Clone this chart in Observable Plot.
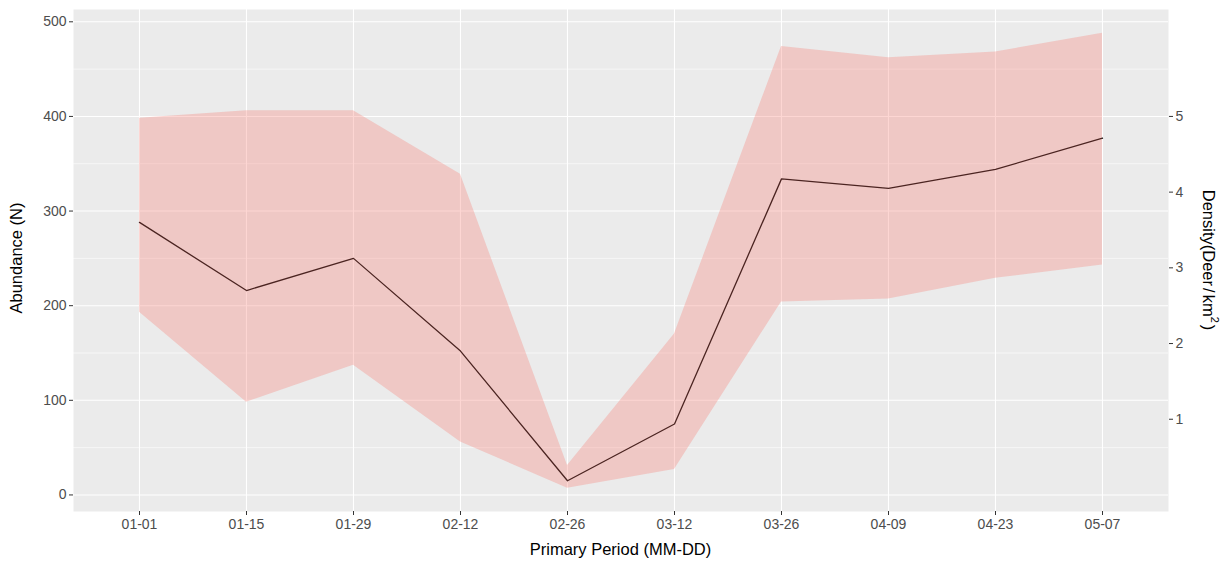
<!DOCTYPE html>
<html>
<head>
<meta charset="utf-8">
<script src="https://cdn.jsdelivr.net/npm/d3@7"></script>
<script src="https://cdn.jsdelivr.net/npm/@observablehq/plot@0.6"></script>
<style>
  body { margin: 0; background: #fff; font-family: "Liberation Sans", Arial, sans-serif; }
</style>
</head>
<body>
<div id="chart"></div>
<script>
// Primary sampling periods (MM-DD)
const periods = ["01-01", "01-15", "01-29", "02-12", "02-26", "03-12", "03-26", "04-09", "04-23", "05-07"];
// Estimated abundance (N) with lower / upper confidence bounds
const abundance = [288, 216, 250, 152, 15, 75, 334, 324, 344, 377];
const lower = [193, 98, 137, 56, 7, 27, 204, 207, 229, 243];
const upper = [398, 406, 406, 339, 31, 170, 474, 462, 468, 488];

// Axis tick values
const abundanceTicks = [0, 100, 200, 300, 400, 500];
const abundanceMinor = [50, 150, 250, 350, 450];
const densityTicks = [1, 2, 3, 4, 5];
const studyAreaKm2 = 80; // density = N / area

const rows = periods.map((p, i) => ({ period: p, n: abundance[i], lo: lower[i], hi: upper[i] }));

const textColor = "#4D4D4D";
const tickColor = "#333333";

const chart = Plot.plot({
  width: 1231,
  height: 563,
  marginLeft: 73,
  marginRight: 63,
  marginTop: 9,
  marginBottom: 52,
  style: { fontFamily: "Liberation Sans, Arial, sans-serif", fontSize: "14px", background: "#ffffff" },
  x: { type: "point", domain: periods, padding: 0.6 },
  y: { domain: [-17.5, 513] },
  marks: [
    Plot.frame({ fill: "#EBEBEB", stroke: null }),
    Plot.ruleY(abundanceMinor, { stroke: "#ffffff", strokeWidth: 0.6 }),
    Plot.ruleY(abundanceTicks, { stroke: "#ffffff", strokeWidth: 1.1 }),
    Plot.ruleX(periods, { stroke: "#ffffff", strokeWidth: 1.1 }),
    Plot.line(rows, { x: "period", y: "n", stroke: "#000000", strokeWidth: 1.3 }),
    Plot.areaY(rows, { x: "period", y1: "lo", y2: "hi", fill: "#F8766D", fillOpacity: 0.3 }),
    Plot.axisX({ tickSize: 4, tickPadding: 4, stroke: tickColor, fill: textColor, label: null }),
    Plot.axisY({ ticks: abundanceTicks, tickSize: 4, tickPadding: 3, stroke: tickColor, fill: textColor, label: null }),
    Plot.axisY({
      anchor: "right",
      ticks: densityTicks.map(d => d * studyAreaKm2),
      tickFormat: d => d / studyAreaKm2,
      tickSize: 4,
      tickPadding: 3,
      stroke: tickColor,
      fill: textColor,
      label: null
    })
  ]
});

document.getElementById("chart").appendChild(chart);

// Axis titles
const svg = d3.select(chart);
const titles = svg.append("g")
  .attr("font-family", "Liberation Sans, Arial, sans-serif")
  .attr("font-size", "16.5px")
  .attr("fill", "#000");

titles.append("text")
  .attr("x", 620.5).attr("y", 551)
  .attr("text-anchor", "middle").attr("dominant-baseline", "middle")
  .text("Primary Period (MM-DD)");

titles.append("text")
  .attr("transform", "translate(18,258) rotate(-90)")
  .attr("text-anchor", "middle").attr("dominant-baseline", "middle")
  .text("Abundance (N)");

const right = titles.append("text")
  .attr("transform", "translate(1207,260) rotate(90)")
  .attr("text-anchor", "middle").attr("dominant-baseline", "middle");
right.append("tspan").text("Density(Deer");
right.append("tspan").attr("dx", "2").text("/");
right.append("tspan").attr("dx", "2").text("km");
right.append("tspan").attr("font-size", "11px").attr("dy", "-7").text("2");
right.append("tspan").attr("dx", "2").attr("dy", "7").text(")");
</script>
</body>
</html>
